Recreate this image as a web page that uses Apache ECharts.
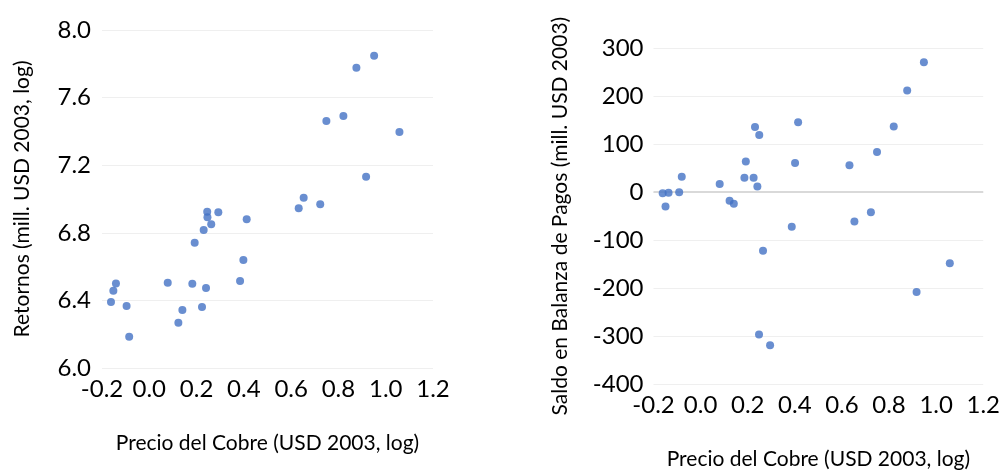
<!DOCTYPE html>
<html>
<head>
<meta charset="utf-8">
<script src="https://cdn.jsdelivr.net/npm/echarts@6/dist/echarts.min.js"></script>
<style>
html,body{margin:0;padding:0;background:#fff;}
#chart{width:1003px;height:475px;}
</style>
</head>
<body>
<div id="chart"></div>
<script>
// Left panel: copper price (log) vs returns (log)
const precioCobreA = [-0.162,-0.152,-0.141,-0.096,-0.085,0.078,0.123,0.140,0.182,0.192,0.223,0.230,0.240,0.245,0.246,0.262,0.292,0.384,0.398,0.412,0.632,0.653,0.723,0.749,0.821,0.876,0.917,0.951,1.058];
const retornos = [6.39,6.457,6.50,6.367,6.185,6.505,6.268,6.343,6.499,6.741,6.361,6.817,6.473,6.925,6.892,6.85,6.921,6.515,6.639,6.880,6.945,7.008,6.969,7.462,7.491,7.777,7.132,7.848,7.396];

// Right panel: copper price (log) vs balance of payments
const precioCobreB = [-0.161,-0.149,-0.136,-0.091,-0.080,0.081,0.123,0.141,0.186,0.192,0.225,0.231,0.241,0.248,0.249,0.265,0.295,0.387,0.401,0.414,0.632,0.653,0.723,0.749,0.820,0.877,0.917,0.948,1.058];
const saldo = [-2,-30,-1,0,32,17,-18,-24,30,64,30,136,12,-297,119,-122,-319,-72,61,146,56,-61,-42,84,137,212,-208,271,-148];

const xTitle = 'Precio del Cobre (USD 2003, log)';
const yTitleA = 'Retornos (mill. USD 2003, log)';
const yTitleB = 'Saldo en Balanza de Pagos (mill. USD 2003)';
const zeroLine = [0];

const FONT = 'Lato';
const pairs = (xs, ys) => xs.map((x, i) => [x, ys[i]]);

const xAxisBase = {
  type: 'value', min: -0.2, max: 1.2, interval: 0.2,
  axisLine: {show: false}, axisTick: {show: false}, splitLine: {show: false},
  axisLabel: {color: '#000', fontFamily: FONT, fontSize: 24, margin: 9,
    formatter: v => v.toFixed(1)},
  name: xTitle, nameLocation: 'middle', nameGap: 65,
  nameTextStyle: {color: '#000', fontFamily: FONT, fontSize: 21}
};

const chart = echarts.init(document.getElementById('chart'));
chart.setOption({
  animation: false,
  grid: [
    {left: 102, top: 30, width: 331, height: 338},
    {left: 653.5, top: 48.3, width: 331.5, height: 338.4}
  ],
  xAxis: [
    Object.assign({gridIndex: 0}, xAxisBase),
    Object.assign({gridIndex: 1}, xAxisBase, {nameGap: 65})
  ],
  yAxis: [
    {gridIndex: 0, type: 'value', min: 6.0, max: 8.0, interval: 0.4,
     axisLine: {show: false}, axisTick: {show: false},
     splitLine: {show: true, lineStyle: {color: '#efefef', width: 1}},
     axisLabel: {color: '#000', fontFamily: FONT, fontSize: 24, margin: 11,
       formatter: v => v.toFixed(1)},
     name: yTitleA, nameLocation: 'middle', nameRotate: 90, nameGap: 69,
     nameTextStyle: {color: '#000', fontFamily: FONT, fontSize: 21}},
    {gridIndex: 1, type: 'value', min: -400, max: 300, interval: 100,
     axisLine: {show: false}, axisTick: {show: false},
     splitLine: {show: true, lineStyle: {color: '#efefef', width: 1}},
     axisLabel: {color: '#000', fontFamily: FONT, fontSize: 24, margin: 10},
     name: yTitleB, nameLocation: 'middle', nameRotate: 90, nameGap: 83,
     nameTextStyle: {color: '#000', fontFamily: FONT, fontSize: 21}}
  ],
  series: [
    {type: 'scatter', xAxisIndex: 0, yAxisIndex: 0, symbolSize: 8,
     itemStyle: {color: '#4472C4'}, data: pairs(precioCobreA, retornos)},
    {type: 'scatter', xAxisIndex: 1, yAxisIndex: 1, symbolSize: 8, z: 3,
     itemStyle: {color: '#4472C4'}, data: pairs(precioCobreB, saldo),
     markLine: {silent: true, symbol: 'none', label: {show: false}, z: 1,
       lineStyle: {color: '#d9d9d9', width: 2, type: 'solid'},
       data: zeroLine.map(v => ({yAxis: v}))}}
  ]
});
</script>
</body>
</html>
